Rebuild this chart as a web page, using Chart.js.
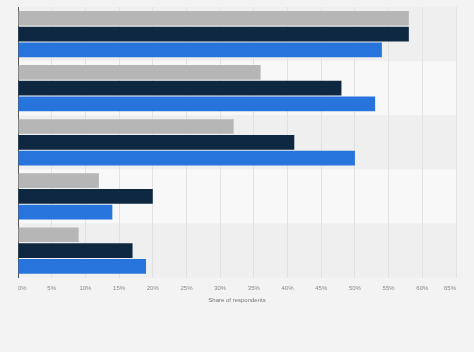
<!DOCTYPE html>
<html>
<head>
<meta charset="utf-8">
<script src="https://cdn.jsdelivr.net/npm/chart.js@4"></script>
<style>
  html, body { margin: 0; padding: 0; background: #f3f3f3; }
  #wrap { width: 474px; height: 352px; position: relative; }
</style>
</head>
<body>
<div id="wrap"><canvas id="chart"></canvas></div>
<script>
const categories = ['Group 1', 'Group 2', 'Group 3', 'Group 4', 'Group 5'];
const seriesNames = ['Series 1', 'Series 2', 'Series 3'];
const grayValues = [58, 36, 32, 12, 9];
const navyValues = [58, 48, 41, 20, 17];
const blueValues = [54, 53, 50, 14, 19];
const xTicks = [0, 5, 10, 15, 20, 25, 30, 35, 40, 45, 50, 55, 60, 65];

// alternating row bands behind the grid
const bandPlugin = {
  id: 'bands',
  beforeDraw(chart) {
    const ctx = chart.ctx;
    const area = chart.chartArea;
    const y = chart.scales.y;
    const half = (area.bottom - area.top) / categories.length / 2;
    ctx.save();
    categories.forEach((c, i) => {
      const cy = y.getPixelForValue(i);
      ctx.fillStyle = i % 2 === 0 ? '#efefef' : '#f8f8f8';
      ctx.fillRect(area.left, cy - half, area.right - area.left, half * 2);
    });
    ctx.restore();
  }
};

new Chart(document.getElementById('chart'), {
  type: 'bar',
  data: {
    labels: categories,
    datasets: [
      { label: seriesNames[0], data: grayValues, backgroundColor: '#b6b6b6' },
      { label: seriesNames[1], data: navyValues, backgroundColor: '#0f2842' },
      { label: seriesNames[2], data: blueValues, backgroundColor: '#2774dc' }
    ]
  },
  options: {
    indexAxis: 'y',
    responsive: true,
    maintainAspectRatio: false,
    animation: false,
    categoryPercentage: 0.875,
    barPercentage: 0.93,
    layout: { padding: { left: 10, right: 18, top: 7, bottom: 50 } },
    plugins: {
      legend: { display: false },
      tooltip: { enabled: false }
    },
    scales: {
      x: {
        min: 0,
        max: 65,
        afterBuildTicks(axis) {
          axis.ticks = xTicks.map(v => ({ value: v }));
        },
        grid: { color: '#e2e2e2', drawTicks: false },
        border: { display: false },
        ticks: {
          align: 'inner',
          padding: 8,
          color: '#8a8a8a',
          font: { family: 'Liberation Sans', size: 6, lineHeight: 0.8 },
          callback: v => v + '%'
        },
        title: {
          display: true,
          text: 'Share of respondents',
          color: '#777',
          font: { family: 'Liberation Sans', size: 6, lineHeight: 0.6 },
          padding: { top: 0, bottom: 0 }
        }
      },
      y: {
        grid: { display: false },
        border: { display: true, color: '#555', width: 1 },
        ticks: { display: false }
      }
    }
  },
  plugins: [bandPlugin]
});
</script>
</body>
</html>
